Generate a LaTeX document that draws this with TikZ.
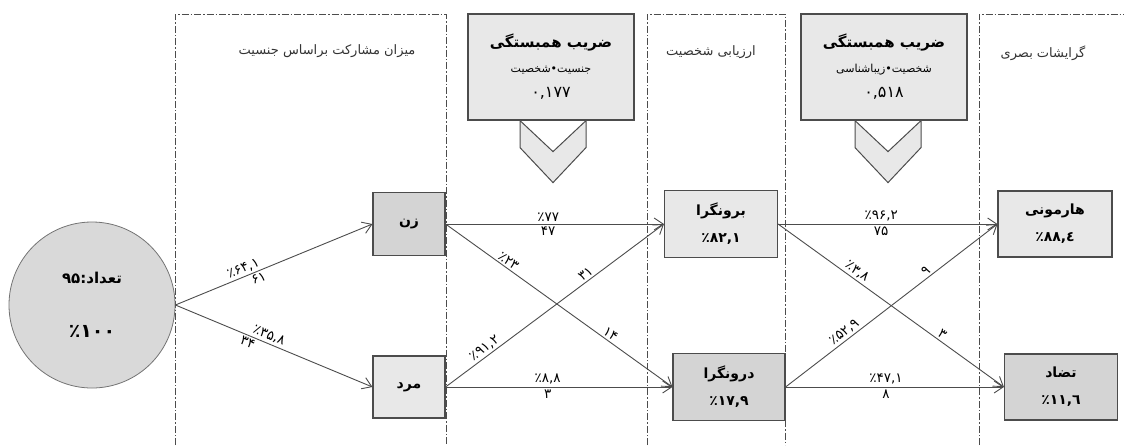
\documentclass[tikz,border=0pt]{standalone}
\usepackage{fontspec}
\usepackage{tikz}
\usetikzlibrary{arrows.meta}
\newfontfamily\fa[Script=Arabic]{DejaVu Sans}
\TeXXeTstate=1
\newcommand\dnum[2]{#1\kern0pt,\kern0pt#2}
\definecolor{lightbox}{gray}{0.91}
\definecolor{darkbox}{gray}{0.83}
\definecolor{circfill}{gray}{0.85}
\definecolor{framegray}{gray}{0.30}

\begin{document}
\begin{tikzpicture}[x=1pt, y=-1pt, >={Straight Barb[length=9pt,width=12pt]}, every node/.style={font=\fa}, box/.style={draw=framegray, line width=1.1pt, align=center, font=\fa\bfseries\fontsize{14}{27}\selectfont}, corr/.style={draw=framegray, line width=1.2pt, fill=lightbox, minimum width=166pt, minimum height=106pt, align=center, font=\fa\fontsize{11}{25}\selectfont}, chev/.style={draw=framegray, line width=1pt, fill=lightbox}, panel/.style={draw=black!70, line width=0.7pt, dash pattern=on 7pt off 2pt on 1.5pt off 2pt}, title/.style={font=\fa\fontsize{13}{15}\selectfont, text=black!80}, lbl/.style={font=\fa\fontsize{13.5}{15}\selectfont, sloped, inner sep=2pt}, every edge/.append style={draw=framegray, line width=0.9pt}]
\useasboundingbox (0,0) rectangle (1124,445);
\draw[panel] (175,445) -- (175,14) -- (446,14) -- (446,445);
\draw[panel] (647,445) -- (647,14) -- (785,14) -- (785,445);
\draw[panel] (979,445) -- (979,14) -- (1130,14);
\draw (327,51) node[title](t1){\beginR میزان مشارکت براساس جنسیت\endR};
\draw (711,52) node[title](t2){\beginR ارزیابی شخصیت\endR};
\draw (1043,53) node[title](t3){\beginR گرایشات بصری\endR};
\draw (551,67) node[corr](r1){{\fontsize{15}{17}\selectfont\bfseries\beginR ضریب همبستگی\endR}\\ جنسیت•شخصیت\\ {\fontsize{16}{17}\selectfont ۰,۱۷۷}};
\draw (884,67) node[corr](r2){{\fontsize{15}{17}\selectfont\bfseries\beginR ضریب همبستگی\endR}\\ شخصیت•زیباشناسی\\ {\fontsize{16}{17}\selectfont ۰,۵۱۸}};
\draw[chev] (r1.south) ++(-31,0) -- ++(33,31) -- ++(33,-31) -- ++(0,27) -- ++(-33,35) -- ++(-33,-35) -- cycle;
\draw[chev] (r2.south) ++(-29,0) -- ++(33,31) -- ++(33,-31) -- ++(0,27) -- ++(-33,35) -- ++(-33,-35) -- cycle;
\draw (92,305) node[circle, draw=black!55, line width=0.8pt, fill=circfill, minimum size=166pt, align=center, font=\fa\bfseries](n){{\fontsize{15}{17}\selectfont تعداد:۹۵}\\[40pt]{\fontsize{19}{21}\selectfont ٪۱۰۰}};
\draw (409,224) node[box, fill=darkbox, minimum width=72pt, minimum height=63pt](zan){زن};
\draw (409,387) node[box, fill=lightbox, minimum width=72pt, minimum height=62pt](mard){مرد};
\draw (721,224) node[box, fill=lightbox, minimum width=113pt, minimum height=67pt](boron){برونگرا\\٪۸۲,۱};
\draw (729,387) node[box, fill=darkbox, minimum width=112pt, minimum height=67pt](daron){درونگرا\\٪۱۷,۹};
\draw (1055,224) node[box, fill=lightbox, minimum width=114pt, minimum height=66pt](harm){هارمونی\\\dnum{٪۸۸}{٤}};
\draw (1061,387) node[box, fill=darkbox, minimum width=113pt, minimum height=66pt](tazad){تضاد\\\dnum{٪۱۱}{٦}};
\path[->] (n.east) edge node[lbl, above, pos=0.36]{٪۶۴,۱} node[lbl, below, pos=0.41]{۶۱} (zan.west);
\path[->] (n.east) edge node[lbl, above, pos=0.46]{٪۳۵,۸} node[lbl, below, pos=0.38]{۳۴} (mard.west);
\path[->] (zan.east) edge node[lbl, above, pos=0.47]{٪۷۷} node[lbl, below, pos=0.47]{۴۷} (boron.west);
\path[->] (zan.east) edge node[lbl, above, pos=0.26]{٪۲۳} node[lbl, above, pos=0.71]{۱۴} (daron.west);
\path[->] (mard.east) edge node[lbl, above, pos=0.2]{٪۹۱,۲} node[lbl, above, pos=0.66]{۳۱} (boron.west);
\path[->] (mard.east) edge node[lbl, above, pos=0.45]{٪۸,۸} node[lbl, below, pos=0.45]{۳} (daron.west);
\path[->] (boron.east) edge node[lbl, above, pos=0.47]{٪۹۶,۲} node[lbl, below, pos=0.47]{۷۵} (harm.west);
\path[->] (boron.east) edge node[lbl, above, pos=0.33]{٪۳,۸} node[lbl, above, pos=0.71]{۳} (tazad.west);
\path[->] (daron.east) edge node[lbl, above, pos=0.3]{٪۵۲,۹} node[lbl, above, pos=0.68]{۹} (harm.west);
\path[->] (daron.east) edge node[lbl, above, pos=0.46]{٪۴۷,۱} node[lbl, below, pos=0.46]{۸} (tazad.west);
\end{tikzpicture}
\end{document}
